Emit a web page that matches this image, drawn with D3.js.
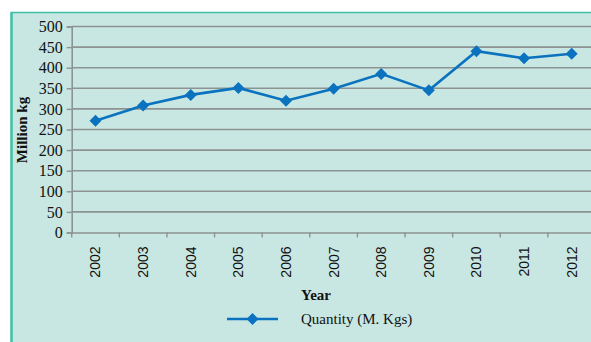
<!DOCTYPE html>
<html><head><meta charset="utf-8">
<script src="https://cdn.jsdelivr.net/npm/d3@7"></script>
<style>html,body{margin:0;padding:0;background:#fff;}svg{display:block;}</style>
</head><body>
<script>
const years = ["2002","2003","2004","2005","2006","2007","2008","2009","2010","2011","2012"];
const quantity = [271, 308, 334, 351, 320, 349, 385, 345, 440, 423, 434];
const yTicks = [0,50,100,150,200,250,300,350,400,450,500];
const seriesName = "Quantity (M. Kgs)";

const W = 591, H = 342;
const svg = d3.select("body").append("svg").attr("width", W).attr("height", H);
const serif = "'Liberation Serif', 'Times New Roman', serif";

svg.append("rect").attr("x", 11).attr("y", 12).attr("width", W - 11).attr("height", H - 12).attr("fill", "#c8e7e2");
svg.append("line").attr("x1", 11).attr("x2", W).attr("y1", 12.5).attr("y2", 12.5).attr("stroke", "#3cbfa6").attr("stroke-width", 1.5);
svg.append("line").attr("x1", 11.5).attr("x2", 11.5).attr("y1", 12).attr("y2", H).attr("stroke", "#3cbfa6").attr("stroke-width", 2.5);

const x = d3.scaleBand().domain(years).range([71.7, 595.5]);
const y = d3.scaleLinear().domain([0, 500]).range([232.5, 26.5]);

svg.append("g").selectAll("line").data(yTicks.filter(d => d > 0)).join("line")
  .attr("x1", 71.7).attr("x2", W).attr("y1", d => y(d)).attr("y2", d => y(d))
  .attr("stroke", "#8c9391").attr("stroke-width", 1.6);

const ya = svg.append("g").attr("transform", "translate(71.7,0)")
  .call(d3.axisLeft(y).tickValues(yTicks).tickSize(5).tickPadding(4));
ya.attr("font-family", null).attr("font-size", null);
ya.select(".domain").attr("stroke", "#8c9391").attr("stroke-width", 1.6);
ya.selectAll(".tick line").attr("stroke", "#8c9391").attr("stroke-width", 1.4);
ya.selectAll(".tick text").style("font-family", serif).style("font-size", "16px").attr("fill", "#111");

const xa = svg.append("g").attr("transform", "translate(0," + y(0) + ")")
  .call(d3.axisBottom(x).tickSize(0).tickPadding(0));
xa.attr("font-family", null).attr("font-size", null);
xa.select(".domain").attr("stroke", "#8c9391").attr("stroke-width", 1.6);
xa.selectAll(".tick text")
  .style("font-family", "'Liberation Sans', Arial, sans-serif").style("font-size", "14px").attr("fill", "#111")
  .attr("transform", "rotate(-90)").attr("text-anchor", "end").attr("dy", "0.35em").attr("x", -14).attr("y", 0);
xa.append("g").selectAll("line").data(years).join("line")
  .attr("x1", d => x(d)).attr("x2", d => x(d)).attr("y1", 0).attr("y2", 5)
  .attr("stroke", "#8c9391").attr("stroke-width", 1.4);

const cx = d => x(d) + x.bandwidth() / 2;
const data = years.map((yr, i) => ({yr, v: quantity[i]}));
svg.append("path").datum(data)
  .attr("d", d3.line().x(d => cx(d.yr)).y(d => y(d.v)))
  .attr("fill", "none").attr("stroke", "#0a72bf").attr("stroke-width", 2.6);
svg.append("g").selectAll("path").data(data).join("path")
  .attr("transform", d => `translate(${cx(d.yr)},${y(d.v)}) rotate(45)`)
  .attr("d", d3.symbol().type(d3.symbolSquare).size(72))
  .attr("fill", "#0a72bf");

svg.append("text").attr("transform", "translate(27,130) rotate(-90)").attr("text-anchor", "middle")
  .style("font-family", serif).attr("font-weight", "bold").style("font-size", "15px").attr("fill", "#111")
  .text("Million kg");
svg.append("text").attr("x", 301).attr("y", 300)
  .style("font-family", serif).attr("font-weight", "bold").style("font-size", "15px").attr("fill", "#111")
  .text("Year");

svg.append("line").attr("x1", 227).attr("x2", 278).attr("y1", 319).attr("y2", 319).attr("stroke", "#0a72bf").attr("stroke-width", 2.6);
svg.append("path").attr("transform", "translate(252.5,319) rotate(45)").attr("d", d3.symbol().type(d3.symbolSquare).size(72)).attr("fill", "#0a72bf");
svg.append("text").attr("x", 301).attr("y", 324)
  .style("font-family", serif).style("font-size", "15px").attr("fill", "#111")
  .text(seriesName);
</script>
</body></html>
